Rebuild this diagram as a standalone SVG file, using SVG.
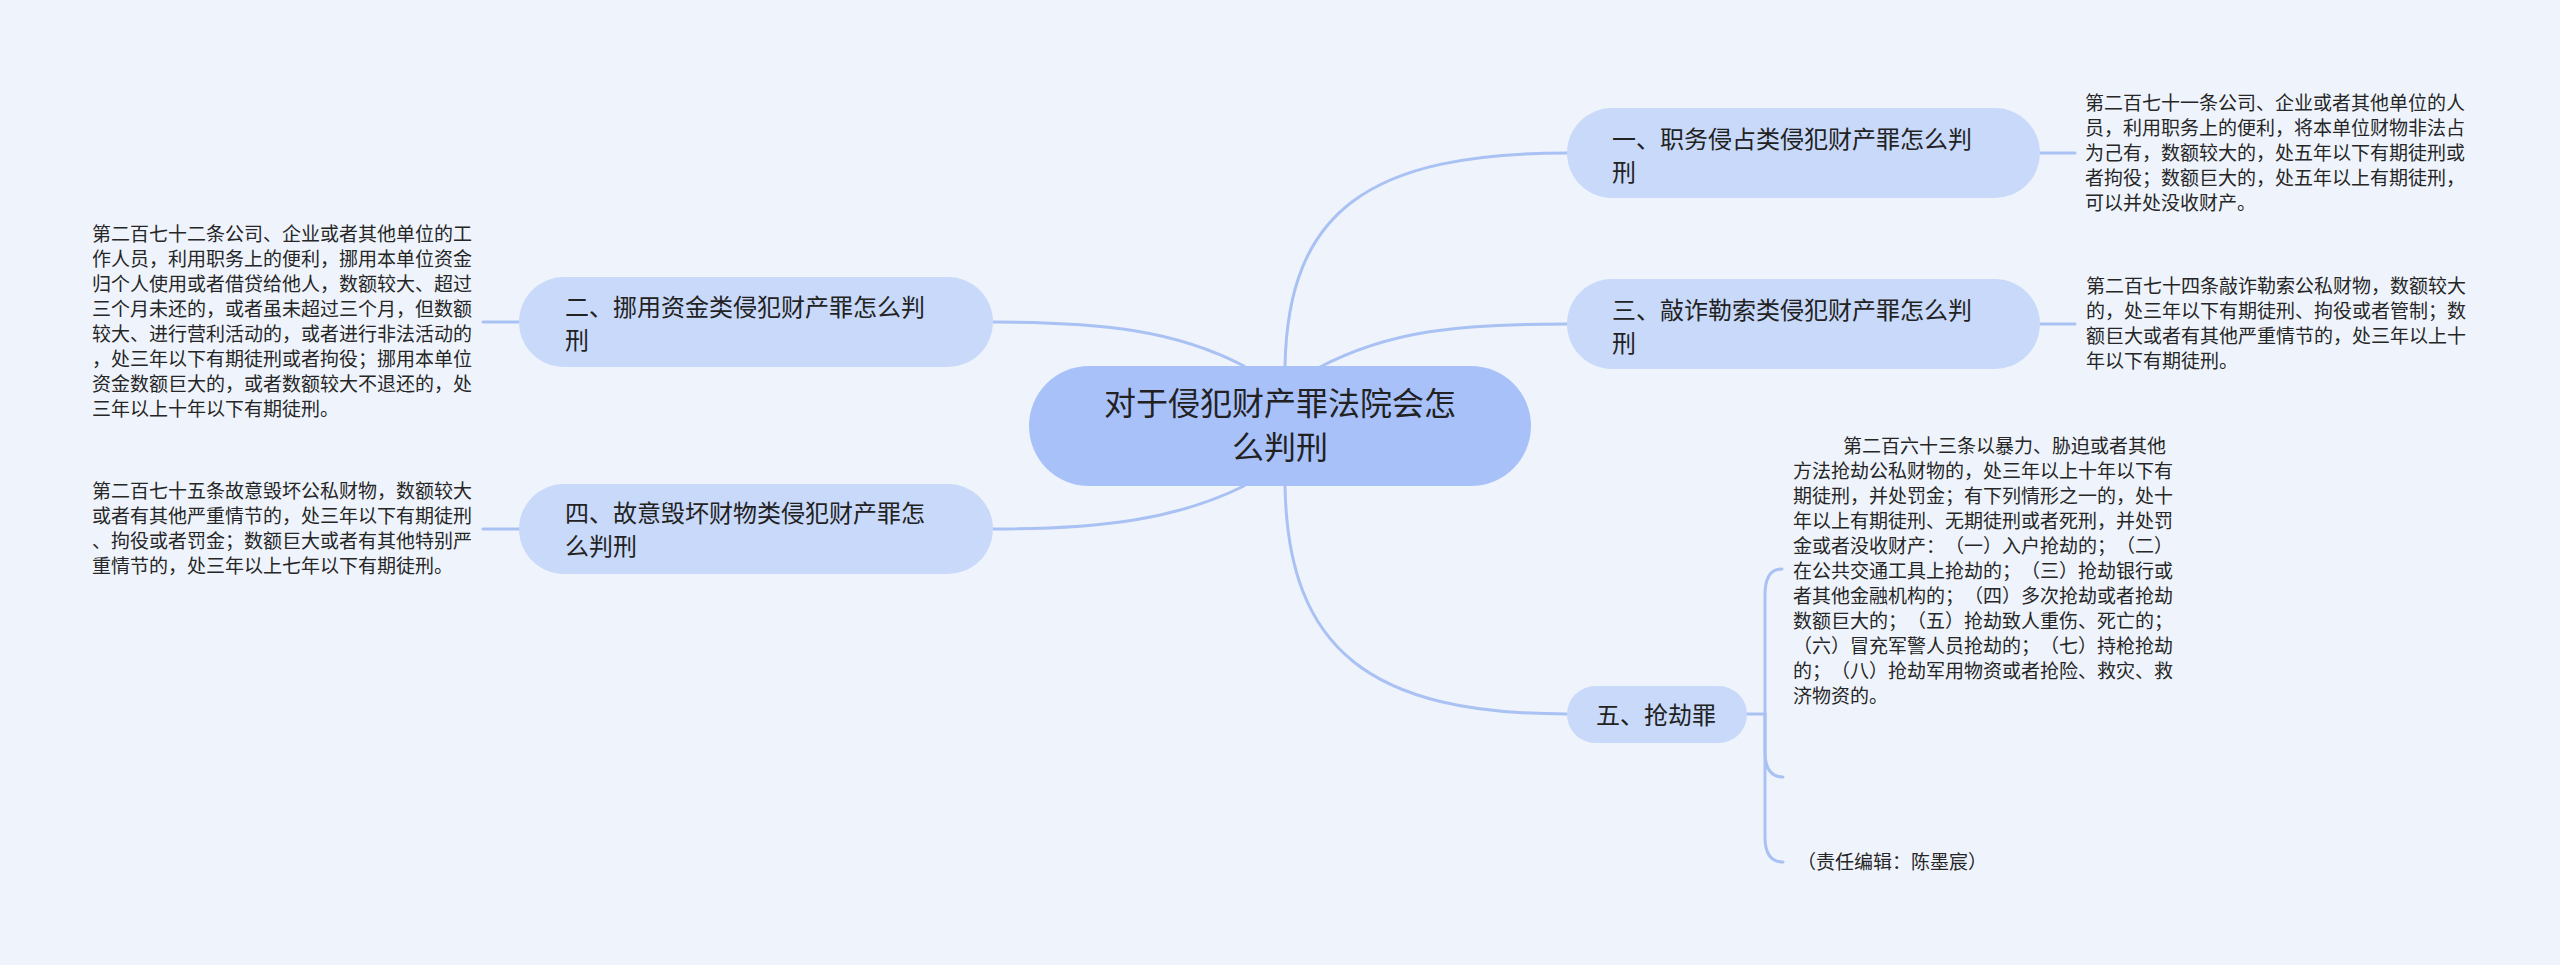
<svg xmlns="http://www.w3.org/2000/svg" width="2560" height="965" viewBox="0 0 2560 965">
<style>
.bg{fill:#eff4fc}
.conn path{fill:none;stroke:#a9c1f3;stroke-width:3;stroke-linecap:round}
.root rect{fill:#a9c1f9}
.sub rect{fill:#c9d9fa}
.t{font-family:"Noto Sans CJK SC","Noto Sans",sans-serif;fill:#222;text-spacing-trim:space-all;font-feature-settings:"halt" 0,"chws" 0}
.rt{font-size:32px;text-anchor:middle}
.st{font-size:24px}
.lt{font-size:19px;fill:#262626}
</style>
<rect class="bg" x="0" y="0" width="2560" height="965"/>
<g id="connectors" class="conn">
<path d="M1285,366 C1288,210 1370,153 1567,153"/>
<path d="M1318,368 C1390,330 1460,324 1567,324"/>
<path d="M1244,366 C1175,330 1100,322 993,322"/>
<path d="M1244,486 C1175,520 1100,529 993,529"/>
<path d="M1285,486 C1288,650 1370,714 1567,714"/>
<path d="M2040,153 L2075,153"/>
<path d="M2040,324 L2075,324"/>
<path d="M519,322 L483,322"/>
<path d="M519,529 L483,529"/>
<path d="M1747,714 L1765,714"/>
<path d="M1765,714 L1765,595 Q1765,569 1782,569"/>
<path d="M1765,714 L1765,752 Q1765,777 1783,777"/>
<path d="M1765,714 L1765,837 Q1765,862 1783,862"/>
</g>
<g id="root" class="root">
<rect x="1029" y="366" width="502" height="120" rx="60"/>
<text class="t rt" x="1280" y="415">对于侵犯财产罪法院会怎</text>
<text class="t rt" x="1280" y="459">么判刑</text>
</g>
<g id="n1" class="sub">
<rect x="1567" y="108" width="473" height="90" rx="45"/>
<text class="t st" x="1612" y="148">一、职务侵占类侵犯财产罪怎么判</text>
<text class="t st" x="1612" y="181">刑</text>
</g>
<g id="n3" class="sub">
<rect x="1567" y="279" width="473" height="90" rx="45"/>
<text class="t st" x="1612" y="319">三、敲诈勒索类侵犯财产罪怎么判</text>
<text class="t st" x="1612" y="352">刑</text>
</g>
<g id="n2" class="sub">
<rect x="519" y="277" width="474" height="90" rx="45"/>
<text class="t st" x="565" y="316">二、挪用资金类侵犯财产罪怎么判</text>
<text class="t st" x="565" y="349">刑</text>
</g>
<g id="n4" class="sub">
<rect x="519" y="484" width="474" height="90" rx="45"/>
<text class="t st" x="565" y="522">四、故意毁坏财物类侵犯财产罪怎</text>
<text class="t st" x="565" y="555">么判刑</text>
</g>
<g id="n5" class="sub">
<rect x="1567" y="686" width="180" height="57" rx="28.5"/>
<text class="t st" x="1596" y="724">五、抢劫罪</text>
</g>
<g id="leaf1">
<text class="t lt" x="2085" y="110">第二百七十一条公司、企业或者其他单位的人</text>
<text class="t lt" x="2085" y="135">员，利用职务上的便利，将本单位财物非法占</text>
<text class="t lt" x="2085" y="160">为己有，数额较大的，处五年以下有期徒刑或</text>
<text class="t lt" x="2085" y="185">者拘役；数额巨大的，处五年以上有期徒刑，</text>
<text class="t lt" x="2085" y="210">可以并处没收财产。</text>
</g>
<g id="leaf3">
<text class="t lt" x="2086" y="293">第二百七十四条敲诈勒索公私财物，数额较大</text>
<text class="t lt" x="2086" y="318">的，处三年以下有期徒刑、拘役或者管制；数</text>
<text class="t lt" x="2086" y="343">额巨大或者有其他严重情节的，处三年以上十</text>
<text class="t lt" x="2086" y="368">年以下有期徒刑。</text>
</g>
<g id="leaf2">
<text class="t lt" x="92" y="241">第二百七十二条公司、企业或者其他单位的工</text>
<text class="t lt" x="92" y="266">作人员，利用职务上的便利，挪用本单位资金</text>
<text class="t lt" x="92" y="291">归个人使用或者借贷给他人，数额较大、超过</text>
<text class="t lt" x="92" y="316">三个月未还的，或者虽未超过三个月，但数额</text>
<text class="t lt" x="92" y="341">较大、进行营利活动的，或者进行非法活动的</text>
<text class="t lt" x="92" y="366">，处三年以下有期徒刑或者拘役；挪用本单位</text>
<text class="t lt" x="92" y="391">资金数额巨大的，或者数额较大不退还的，处</text>
<text class="t lt" x="92" y="416">三年以上十年以下有期徒刑。</text>
</g>
<g id="leaf4">
<text class="t lt" x="92" y="498">第二百七十五条故意毁坏公私财物，数额较大</text>
<text class="t lt" x="92" y="523">或者有其他严重情节的，处三年以下有期徒刑</text>
<text class="t lt" x="92" y="548">、拘役或者罚金；数额巨大或者有其他特别严</text>
<text class="t lt" x="92" y="573">重情节的，处三年以上七年以下有期徒刑。</text>
</g>
<g id="leaf5">
<text class="t lt" x="1843" y="453">第二百六十三条以暴力、胁迫或者其他</text>
<text class="t lt" x="1793" y="478">方法抢劫公私财物的，处三年以上十年以下有</text>
<text class="t lt" x="1793" y="503">期徒刑，并处罚金；有下列情形之一的，处十</text>
<text class="t lt" x="1793" y="528">年以上有期徒刑、无期徒刑或者死刑，并处罚</text>
<text class="t lt" x="1793" y="553">金或者没收财产：（一）入户抢劫的；（二）</text>
<text class="t lt" x="1793" y="578">在公共交通工具上抢劫的；（三）抢劫银行或</text>
<text class="t lt" x="1793" y="603">者其他金融机构的；（四）多次抢劫或者抢劫</text>
<text class="t lt" x="1793" y="628">数额巨大的；（五）抢劫致人重伤、死亡的；</text>
<text class="t lt" x="1793" y="653">（六）冒充军警人员抢劫的；（七）持枪抢劫</text>
<text class="t lt" x="1793" y="678">的；（八）抢劫军用物资或者抢险、救灾、救</text>
<text class="t lt" x="1793" y="703">济物资的。</text>
</g>
<g id="leaf6">
<text class="t lt" x="1797" y="869">（责任编辑：陈墨宸）</text>
</g>
</svg>
